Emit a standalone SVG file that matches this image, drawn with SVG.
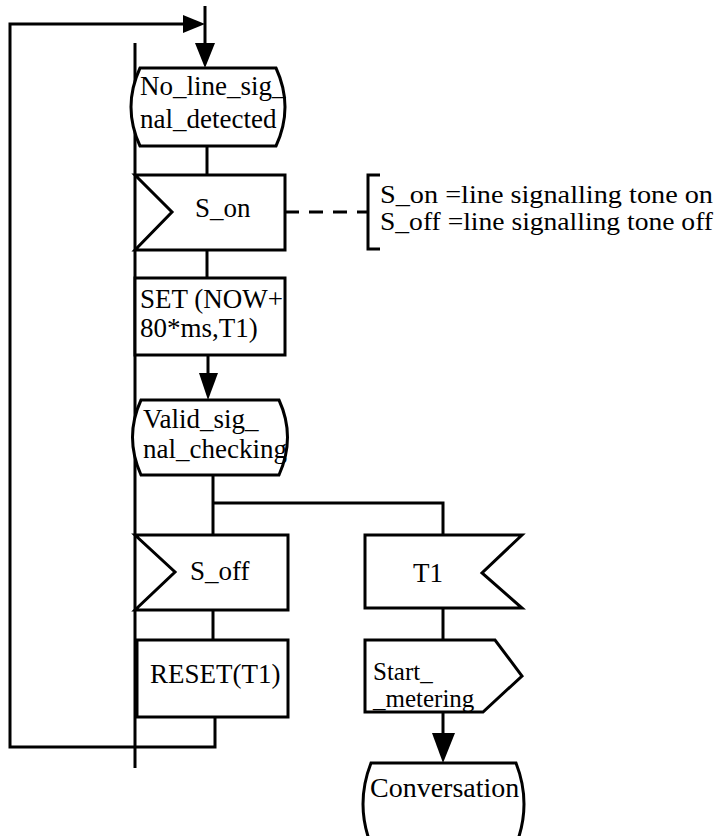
<svg xmlns="http://www.w3.org/2000/svg" width="718" height="836" viewBox="0 0 718 836">
<style>
.s{fill:#fff;stroke:#000;stroke-width:3;stroke-linejoin:miter}
.l{fill:none;stroke:#000;stroke-width:3}
.d{fill:none;stroke:#000;stroke-width:3;stroke-dasharray:14 10}
.a{fill:#000;stroke:none}
.c{font-size:28px}
.k{font-size:26px}
.m{font-size:25px}
</style>
<rect width="718" height="836" fill="#fff"/>
<g id="connectors">
<line class="l" x1="135" y1="43" x2="135" y2="768"/>
<line class="l" x1="205" y1="6" x2="205" y2="50"/>
<polygon class="a" points="195,43 215,43 205,68"/>
<polyline class="l" points="215,717 215,747 10,747 10,24 190,24"/>
<polygon class="a" points="183,15 183,33 205,24"/>
<line class="l" x1="207" y1="146" x2="207" y2="175"/>
<line class="l" x1="207" y1="250" x2="207" y2="278"/>
<line class="l" x1="208" y1="355" x2="208" y2="380"/>
<polygon class="a" points="199,373 218,373 208,400"/>
<polyline class="l" points="213,475 213,535"/>
<polyline class="l" points="213,503 443,503 443,535"/>
<line class="l" x1="213" y1="610" x2="213" y2="640"/>
<line class="l" x1="443" y1="608" x2="443" y2="640"/>
<line class="l" x1="443" y1="712" x2="443" y2="740"/>
<polygon class="a" points="432,733 455,733 443,763"/>
<line class="d" x1="285" y1="212" x2="368" y2="212"/>
<polyline class="l" points="380,175 368,175 368,249 380,249"/>
</g>
<g font-family="Liberation Serif, Times New Roman, serif" font-size="27" fill="#000">
<g id="No_line_signal_detected">
<path class="s" d="M140,68 H276 Q294,107 276,146 H140 Q122,107 140,68 Z"/>
<text x="140" y="95">No_line_sig_</text>
<text x="140" y="128">nal_detected</text>
</g>
<g id="S_on">
<path class="s" d="M135,175 H285 V250 H135 L172,212 Z"/>
<text x="195" y="217">S_on</text>
</g>
<g id="comment">
<text class="k" x="380" y="203" textLength="333" lengthAdjust="spacingAndGlyphs">S_on =line signalling tone on</text>
<text class="k" x="380" y="230" textLength="333" lengthAdjust="spacingAndGlyphs">S_off =line signalling tone off</text>
</g>
<g id="SET">
<rect class="s" x="135" y="278" width="150" height="77"/>
<text x="140" y="308">SET (NOW+</text>
<text x="140" y="337">80*ms,T1)</text>
</g>
<g id="Valid_signal_checking">
<path class="s" d="M141,400 H279 Q296,437 279,475 H141 Q124,437 141,400 Z"/>
<text x="143" y="428">Valid_sig_</text>
<text x="143" y="458">nal_checking</text>
</g>
<g id="S_off">
<path class="s" d="M135,535 H288 V610 H135 L175,572 Z"/>
<text x="190" y="580">S_off</text>
</g>
<g id="RESET">
<rect class="s" x="137" y="640" width="151" height="77"/>
<text x="150" y="683">RESET(T1)</text>
</g>
<g id="T1">
<path class="s" d="M365,535 H522 L482,573 L522,608 H365 Z"/>
<text x="413" y="582">T1</text>
</g>
<g id="Start_metering">
<path class="s" d="M365,640 H495 L522,676 L483,712 H365 Z"/>
<text class="m" x="373" y="680">Start_</text>
<text class="m" x="373" y="707">_metering</text>
</g>
<g id="Conversation">
<path class="s" d="M371,763 H516 Q532,804 516,845 H371 Q355,804 371,763 Z"/>
<text class="c" x="370" y="797">Conversation</text>
</g>
</g>
</svg>
